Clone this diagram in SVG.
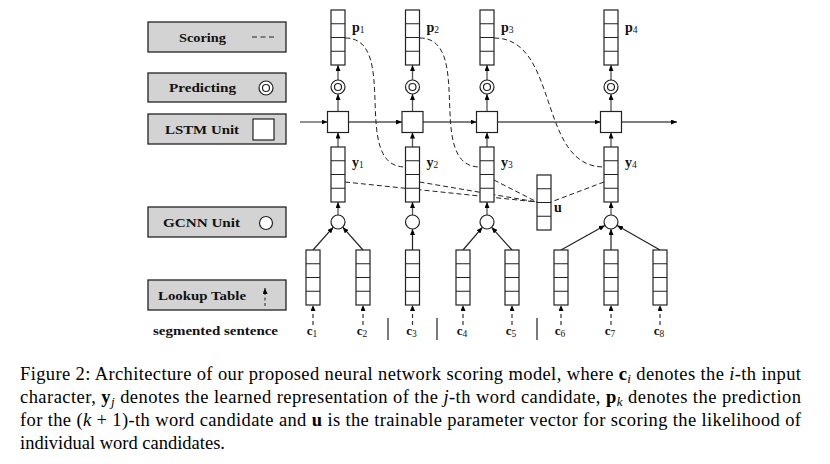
<svg xmlns="http://www.w3.org/2000/svg" width="830" height="464" viewBox="0 0 830 464">
<style>
.box{fill:#d3d3d3;stroke:#222;stroke-width:1.3}
.lt{font-family:"Liberation Serif",serif;font-weight:bold;font-size:13px;fill:#111;text-anchor:middle}
.cell{fill:#fff;stroke:#222;stroke-width:1.2}
.shape{fill:#fff;stroke:#222;stroke-width:1.2}
.conn{stroke:#555;stroke-width:1.3;fill:none}
.dash{stroke:#222;stroke-width:1;fill:none;stroke-dasharray:5 3}
.ldash{stroke:#333;stroke-width:1.2;fill:none;stroke-dasharray:4 3}
.lbl{font-family:"Liberation Serif",serif;font-weight:bold;font-size:14px;fill:#111}
.cl{font-size:13px}
.sub{font-weight:normal;font-size:9.5px}
.cap{font-family:"Liberation Serif",serif;font-size:18.5px;fill:#000}
.sep{stroke:#222;stroke-width:1.2}
</style>
<defs>
<marker id="ah" viewBox="0 0 6 5" refX="6" refY="2.5" markerWidth="6" markerHeight="5" markerUnits="userSpaceOnUse" orient="auto"><path d="M0,0 L6,2.5 L0,5 z" fill="#000"/></marker>
<g id="vec"><rect class="cell" x="-7" y="0" width="14" height="55"/><path d="M-7,13.75H7M-7,27.5H7M-7,41.25H7" stroke="#222" stroke-width="1.2"/></g>
<g id="pred"><circle class="shape" cx="0" cy="0" r="7"/><circle class="shape" cx="0" cy="0" r="3.5"/></g>
<g id="lstm"><rect class="shape" x="-10.5" y="-10.5" width="21" height="21"/></g>
<g id="gcnn"><circle class="shape" cx="0" cy="0" r="7"/></g>
</defs>

<!-- Legend -->
<g id="leg-scoring"><rect class="box" x="148" y="22" width="138" height="30"/><text class="lt" x="202.5" y="41.5" textLength="47" lengthAdjust="spacingAndGlyphs">Scoring</text><line x1="252" y1="37" x2="274" y2="37" stroke="#222" stroke-width="1.2" stroke-dasharray="5 3.5"/></g>
<g id="leg-predicting"><rect class="box" x="148" y="73" width="138" height="29"/><text class="lt" x="202.5" y="92" textLength="67" lengthAdjust="spacingAndGlyphs">Predicting</text><use href="#pred" x="266" y="88"/></g>
<g id="leg-lstm"><rect class="box" x="148" y="114" width="138" height="30"/><text class="lt" x="202" y="133.5" textLength="74" lengthAdjust="spacingAndGlyphs">LSTM Unit</text><rect class="shape" x="253" y="119" width="21" height="21"/></g>
<g id="leg-gcnn"><rect class="box" x="148" y="207" width="138" height="30"/><text class="lt" x="201.5" y="227" textLength="77" lengthAdjust="spacingAndGlyphs">GCNN Unit</text><circle class="shape" cx="266" cy="223" r="6.5"/></g>
<g id="leg-lookup"><rect class="box" x="148" y="280" width="138" height="30"/><text class="lt" x="202" y="300" textLength="88" lengthAdjust="spacingAndGlyphs">Lookup Table</text><line x1="265" y1="306" x2="265" y2="288" stroke="#222" stroke-width="1" stroke-dasharray="3 2.5" marker-end="url(#ah)"/></g>
<g id="leg-sentence"><text class="lt" x="153" y="335" style="text-anchor:start" textLength="125" lengthAdjust="spacingAndGlyphs">segmented sentence</text></g>

<!-- Connectors -->
<g id="connectors">
<g class="conn" marker-end="url(#ah)">
<line x1="300" y1="122" x2="327.5" y2="122"/>
<line x1="348.5" y1="122" x2="402" y2="122"/>
<line x1="423" y1="122" x2="476.5" y2="122"/>
<line x1="497.5" y1="122" x2="600.5" y2="122"/>
<line x1="621.5" y1="122" x2="677" y2="122"/>
<line x1="338" y1="80" x2="338" y2="65"/>
<line x1="412.5" y1="80" x2="412.5" y2="65"/>
<line x1="487" y1="80" x2="487" y2="65"/>
<line x1="611" y1="80" x2="611" y2="65"/>
<line x1="338" y1="111.5" x2="338" y2="94"/>
<line x1="412.5" y1="111.5" x2="412.5" y2="94"/>
<line x1="487" y1="111.5" x2="487" y2="94"/>
<line x1="611" y1="111.5" x2="611" y2="94"/>
<line x1="338" y1="147" x2="338" y2="132.5"/>
<line x1="412.5" y1="147" x2="412.5" y2="132.5"/>
<line x1="487" y1="147" x2="487" y2="132.5"/>
<line x1="611" y1="147" x2="611" y2="132.5"/>
<line x1="338" y1="215" x2="338" y2="202"/>
<line x1="412.5" y1="215" x2="412.5" y2="202"/>
<line x1="487" y1="215" x2="487" y2="202"/>
<line x1="611" y1="215" x2="611" y2="202"/>
</g>
<g stroke="#222" stroke-width="1.2" fill="none" marker-end="url(#ah)">
<line x1="313" y1="250" x2="333.3" y2="227.2"/>
<line x1="363" y1="250" x2="342.7" y2="227.2"/>
<line x1="412.5" y1="250" x2="412.5" y2="229"/>
<line x1="463" y1="250" x2="482.4" y2="227.3"/>
<line x1="512" y1="250" x2="491.6" y2="227.3"/>
<line x1="561" y1="250" x2="604.9" y2="225.4"/>
<line x1="611" y1="250" x2="611" y2="229"/>
<line x1="660" y1="250" x2="617.1" y2="225.5"/>
</g>
<g class="ldash" marker-end="url(#ah)">
<line x1="313" y1="325" x2="313" y2="305"/>
<line x1="363" y1="325" x2="363" y2="305"/>
<line x1="412.5" y1="325" x2="412.5" y2="305"/>
<line x1="463" y1="325" x2="463" y2="305"/>
<line x1="512" y1="325" x2="512" y2="305"/>
<line x1="561" y1="325" x2="561" y2="305"/>
<line x1="611" y1="325" x2="611" y2="305"/>
<line x1="660" y1="325" x2="660" y2="305"/>
</g>
<g class="dash">
<path d="M345,38 C400.7,38 349.3,167 405.5,167"/>
<path d="M419.5,38 C475,38 424,167 480,167"/>
<path d="M494,38 C560,38 537,167 604,167"/>
<line x1="345" y1="182" x2="537" y2="202"/>
<line x1="419.5" y1="182" x2="537" y2="202"/>
<line x1="494" y1="180" x2="537" y2="202"/>
<line x1="604" y1="182" x2="551" y2="202"/>
</g>
</g>

<!-- Nodes -->
<g id="p1"><use href="#vec" x="338" y="10"/><text class="lbl" x="352" y="32">p<tspan class="sub" dy="1">1</tspan></text></g>
<g id="p2"><use href="#vec" x="412.5" y="10"/><text class="lbl" x="426.5" y="32">p<tspan class="sub" dy="1">2</tspan></text></g>
<g id="p3"><use href="#vec" x="487" y="10"/><text class="lbl" x="501" y="32">p<tspan class="sub" dy="1">3</tspan></text></g>
<g id="p4"><use href="#vec" x="611" y="10"/><text class="lbl" x="625" y="32">p<tspan class="sub" dy="1">4</tspan></text></g>
<g id="pred1"><use href="#pred" x="338" y="87"/></g>
<g id="pred2"><use href="#pred" x="412.5" y="87"/></g>
<g id="pred3"><use href="#pred" x="487" y="87"/></g>
<g id="pred4"><use href="#pred" x="611" y="87"/></g>
<g id="lstm1"><use href="#lstm" x="338" y="122"/></g>
<g id="lstm2"><use href="#lstm" x="412.5" y="122"/></g>
<g id="lstm3"><use href="#lstm" x="487" y="122"/></g>
<g id="lstm4"><use href="#lstm" x="611" y="122"/></g>
<g id="y1"><use href="#vec" x="338" y="147"/><text class="lbl" x="352" y="167">y<tspan class="sub" dy="1">1</tspan></text></g>
<g id="y2"><use href="#vec" x="412.5" y="147"/><text class="lbl" x="426.5" y="167">y<tspan class="sub" dy="1">2</tspan></text></g>
<g id="y3"><use href="#vec" x="487" y="147"/><text class="lbl" x="501" y="167">y<tspan class="sub" dy="1">3</tspan></text></g>
<g id="y4"><use href="#vec" x="611" y="147"/><text class="lbl" x="625" y="167">y<tspan class="sub" dy="1">4</tspan></text></g>
<g id="u"><use href="#vec" x="544" y="175"/><text class="lbl" x="554" y="212">u</text></g>
<g id="gcnn1"><use href="#gcnn" x="338" y="222"/></g>
<g id="gcnn2"><use href="#gcnn" x="412.5" y="222"/></g>
<g id="gcnn3"><use href="#gcnn" x="487" y="222"/></g>
<g id="gcnn4"><use href="#gcnn" x="611" y="222"/></g>
<g id="c1"><use href="#vec" x="313" y="250"/><text class="lbl cl" x="312" y="335" text-anchor="middle">c<tspan class="sub" dy="1.5">1</tspan></text></g>
<g id="c2"><use href="#vec" x="363" y="250"/><text class="lbl cl" x="362" y="335" text-anchor="middle">c<tspan class="sub" dy="1.5">2</tspan></text></g>
<g id="c3"><use href="#vec" x="412.5" y="250"/><text class="lbl cl" x="411.5" y="335" text-anchor="middle">c<tspan class="sub" dy="1.5">3</tspan></text></g>
<g id="c4"><use href="#vec" x="463" y="250"/><text class="lbl cl" x="462" y="335" text-anchor="middle">c<tspan class="sub" dy="1.5">4</tspan></text></g>
<g id="c5"><use href="#vec" x="512" y="250"/><text class="lbl cl" x="511" y="335" text-anchor="middle">c<tspan class="sub" dy="1.5">5</tspan></text></g>
<g id="c6"><use href="#vec" x="561" y="250"/><text class="lbl cl" x="560" y="335" text-anchor="middle">c<tspan class="sub" dy="1.5">6</tspan></text></g>
<g id="c7"><use href="#vec" x="611" y="250"/><text class="lbl cl" x="610" y="335" text-anchor="middle">c<tspan class="sub" dy="1.5">7</tspan></text></g>
<g id="c8"><use href="#vec" x="660" y="250"/><text class="lbl cl" x="659" y="335" text-anchor="middle">c<tspan class="sub" dy="1.5">8</tspan></text></g>
<g id="separators">
<line class="sep" x1="388" y1="318" x2="388" y2="340"/>
<line class="sep" x1="437" y1="318" x2="437" y2="340"/>
<line class="sep" x1="537" y1="318" x2="537" y2="340"/>
</g>

<!-- Caption -->
<g id="caption" class="cap">
<text x="20" y="380" textLength="781" lengthAdjust="spacing">Figure 2:  Architecture of our proposed neural network scoring model, where <tspan font-weight="bold">c</tspan><tspan font-style="italic" font-size="13" dy="3">i</tspan><tspan dy="-3"> denotes the </tspan><tspan font-style="italic">i</tspan>-th input</text>
<text x="20" y="403" textLength="781" lengthAdjust="spacing">character, <tspan font-weight="bold">y</tspan><tspan font-style="italic" font-size="13" dy="3">j</tspan><tspan dy="-3"> denotes the learned representation of the </tspan><tspan font-style="italic">j</tspan>-th word candidate, <tspan font-weight="bold">p</tspan><tspan font-style="italic" font-size="13" dy="3">k</tspan><tspan dy="-3"> denotes the prediction</tspan></text>
<text x="20" y="426" textLength="781" lengthAdjust="spacing">for the (<tspan font-style="italic">k</tspan> + 1)-th word candidate and <tspan font-weight="bold">u</tspan> is the trainable parameter vector for scoring the likelihood of</text>
<text x="20" y="449">individual word candidates.</text>
</g>
</svg>
